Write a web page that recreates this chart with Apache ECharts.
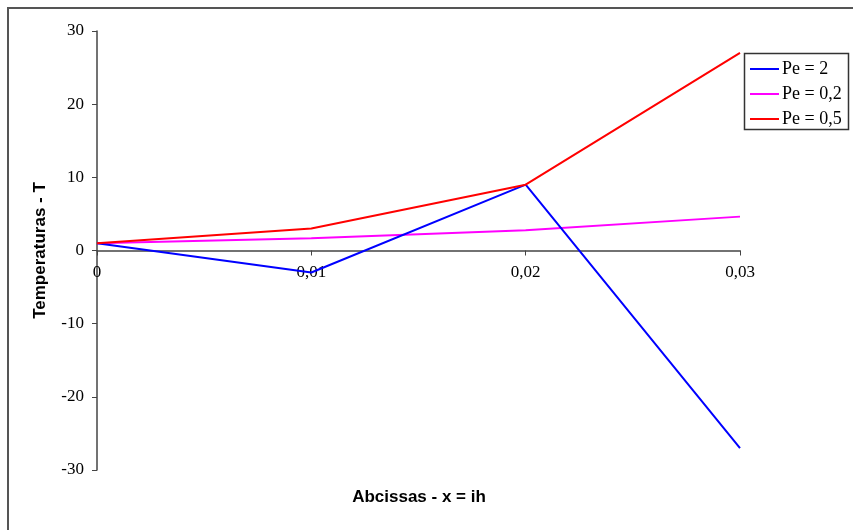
<!DOCTYPE html>
<html>
<head>
<meta charset="utf-8">
<script src="https://cdn.jsdelivr.net/npm/echarts@6/dist/echarts.min.js"></script>
<style>
  html, body { margin: 0; padding: 0; background: #fff; }
  #chart { width: 853px; height: 530px; }
</style>
</head>
<body>
<div id="chart"></div>
<script>
// Abscissa positions x = i*h and temperatures for each Péclet number
const xValues = [0, 0.01, 0.02, 0.03];
const xTickLabels = ['0', '0,01', '0,02', '0,03'];
const pe2 = [1, -3, 9, -27];
const pe02 = [1, 1.67, 2.78, 4.63];
const pe05 = [1, 3, 9, 27];
const seriesNames = ['Pe = 2', 'Pe = 0,2', 'Pe = 0,5'];
const seriesColors = ['#0000ff', '#ff00ff', '#ff0000'];

const chart = echarts.init(document.getElementById('chart'), null, { renderer: 'canvas' });

const pairs = (ys) => ys.map((y, i) => [xValues[i], y]);
const serif = '"Liberation Serif", "DejaVu Serif", serif';
const sans = '"Liberation Sans", Arial, sans-serif';

// plot area edges
const gridLeft = 97, gridRight = 113, gridTop = 31, gridBottom = 60;
const plotHeight = 530 - gridTop - gridBottom;
const yMin = -30, yMax = 30;

const option = {
  animation: false,
  backgroundColor: '#ffffff',
  grid: { left: gridLeft, right: gridRight, top: gridTop, bottom: gridBottom, containLabel: false, outerBoundsMode: 'none' },
  graphic: [
    {
      type: 'rect',
      shape: { x: 8, y: 8, width: 900, height: 600 },
      style: { fill: 'none', stroke: '#555555', lineWidth: 2 },
      silent: true, z: 0
    },
    {
      type: 'rect',
      shape: { x: 744.5, y: 53.5, width: 104, height: 76 },
      style: { fill: '#ffffff', stroke: '#333333', lineWidth: 1.5 },
      silent: true, z: 5
    },
    {
      // x-axis title, centred under the plot area
      type: 'text',
      x: 419,
      y: 497,
      style: {
        text: 'Abcissas - x = ih', fontFamily: sans, fontSize: 17, fontWeight: 'bold', fill: '#000',
        align: 'center', verticalAlign: 'middle'
      },
      silent: true
    }
  ],
  legend: {
    orient: 'vertical',
    left: 750,
    top: 60,
    padding: 0,
    itemWidth: 29,
    itemHeight: 2,
    itemGap: 7,
    icon: 'rect',
    z: 10,
    textStyle: { fontFamily: serif, fontSize: 18, lineHeight: 18, color: '#000', padding: [0, 0, 0, -2] },
    data: seriesNames
  },
  xAxis: {
    type: 'value',
    min: 0,
    max: 0.03,
    interval: 0.01,
    // the axis crosses the ordinate at T = 0
    offset: -plotHeight * (0 - yMin) / (yMax - yMin),
    axisLine: { onZero: false, lineStyle: { color: '#444', width: 1.5 } },
    axisTick: { show: true, inside: false, length: 5, lineStyle: { color: '#444' } },
    axisLabel: {
      fontFamily: serif, fontSize: 17, color: '#000', margin: 14,
      formatter: (v) => xTickLabels[Math.round(v * 100)]
    },
    splitLine: { show: false }
  },
  yAxis: {
    type: 'value',
    min: yMin,
    max: yMax,
    interval: 10,
    name: 'Temperaturas - T',
    nameLocation: 'middle',
    nameGap: 48,
    nameRotate: 90,
    nameTextStyle: { fontFamily: sans, fontSize: 17, fontWeight: 'bold', color: '#000' },
    axisLine: { show: true, onZero: false, lineStyle: { color: '#444', width: 1.5 } },
    axisTick: { show: true, length: 5, lineStyle: { color: '#444' } },
    axisLabel: { fontFamily: serif, fontSize: 17, color: '#000', margin: 13 },
    splitLine: { show: false }
  },
  series: [
    { name: seriesNames[0], type: 'line', data: pairs(pe2), symbol: 'none', lineStyle: { color: seriesColors[0], width: 2 }, itemStyle: { color: seriesColors[0] }, z: 3 },
    { name: seriesNames[1], type: 'line', data: pairs(pe02), symbol: 'none', lineStyle: { color: seriesColors[1], width: 2 }, itemStyle: { color: seriesColors[1] }, z: 2 },
    { name: seriesNames[2], type: 'line', data: pairs(pe05), symbol: 'none', lineStyle: { color: seriesColors[2], width: 2 }, itemStyle: { color: seriesColors[2] }, z: 4 }
  ]
};

chart.setOption(option);
</script>
</body>
</html>
